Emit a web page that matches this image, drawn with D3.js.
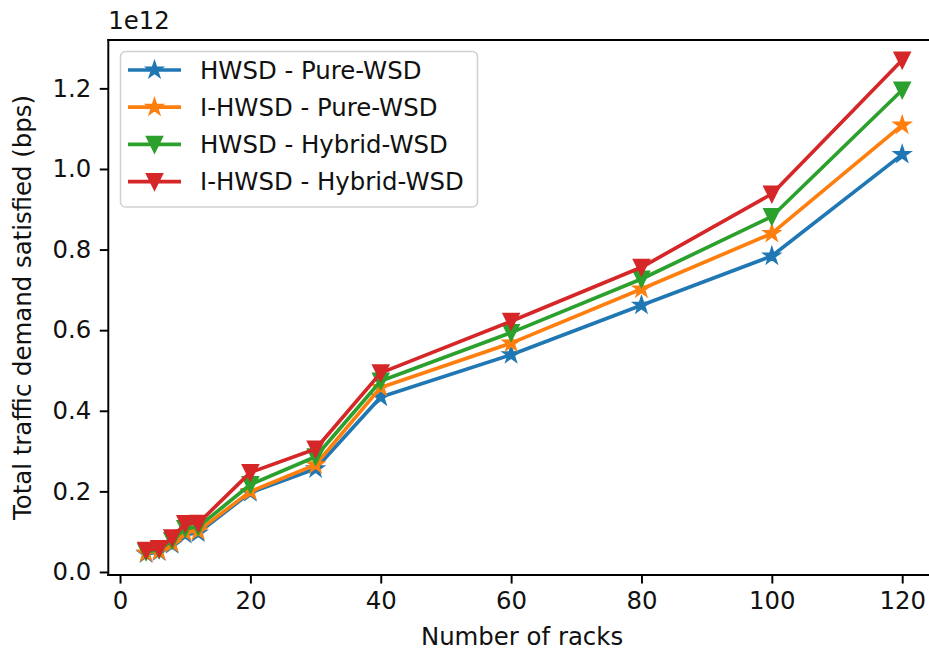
<!DOCTYPE html>
<html>
<head>
<meta charset="utf-8">
<script src="https://cdn.jsdelivr.net/npm/d3@7"></script>
<style>
  html, body { margin: 0; padding: 0; background: #fff; }
  svg { display: block; font-family: "DejaVu Sans", sans-serif; }
</style>
</head>
<body>
<svg id="chart" width="929" height="653"></svg>
<script>
// Rack counts on the x axis
const racks = [4, 6, 8, 10, 12, 20, 30, 40, 60, 80, 100, 120];

// Total traffic demand satisfied, in units of 1e12 bps
const hwsdPure     = [0.045, 0.050, 0.068, 0.093, 0.097, 0.197, 0.256, 0.434, 0.539, 0.662, 0.784, 1.036];
const ihwsdPure    = [0.047, 0.052, 0.071, 0.098, 0.102, 0.200, 0.266, 0.458, 0.568, 0.702, 0.840, 1.109];
const hwsdHybrid   = [0.050, 0.055, 0.078, 0.108, 0.112, 0.217, 0.286, 0.474, 0.594, 0.727, 0.882, 1.196];
const ihwsdHybrid  = [0.054, 0.058, 0.085, 0.120, 0.121, 0.247, 0.305, 0.494, 0.622, 0.756, 0.938, 1.270];

const seriesNames  = ["HWSD - Pure-WSD", "I-HWSD - Pure-WSD", "HWSD - Hybrid-WSD", "I-HWSD - Hybrid-WSD"];
const seriesColors = ["#1f77b4", "#ff7f0e", "#2ca02c", "#d62728"];
const seriesMarker = ["star", "star", "tri", "tri"];

const xTicks = [0, 20, 40, 60, 80, 100, 120];
const yTicks = [0.0, 0.2, 0.4, 0.6, 0.8, 1.0, 1.2];

const series = [hwsdPure, ihwsdPure, hwsdHybrid, ihwsdHybrid].map((vals, i) => ({
  name: seriesNames[i], color: seriesColors[i], marker: seriesMarker[i],
  points: racks.map((r, j) => ({ x: r, y: vals[j] }))
}));

// 1pt in figure pixels
const pt = 2.44;
const fs = 10 * pt;

const svg = d3.select("#chart");
const plot = { left: 108.3, right: 940, top: 40, bottom: 575 };

const x = d3.scaleLinear().domain([-1.8, 125.8]).range([plot.left, plot.right]);
const y = d3.scaleLinear().domain([-0.0075, 1.32]).range([plot.bottom, plot.top]);

// marker shapes: five-point star and downward triangle
const ms = 6 * pt;
const triDown = {
  draw(ctx, size) {
    const h = Math.sqrt(size) / 2;
    ctx.moveTo(0, h);
    ctx.lineTo(-h, -h);
    ctx.lineTo(h, -h);
    ctx.closePath();
  }
};
const starSize = Math.pow(ms / 2, 2) / 0.8908130915292852;
const markerPath = {
  star: d3.symbol().type(d3.symbolStar).size(starSize)(),
  tri: d3.symbol().type(triDown).size(ms * ms)()
};

const ink = "#111";

// axes ticks
const gx = svg.append("g")
  .attr("transform", `translate(0,${plot.bottom})`)
  .call(d3.axisBottom(x).tickValues(xTicks).tickFormat(d3.format("d")).tickSize(3.5 * pt).tickPadding(3.5 * pt));
const gy = svg.append("g")
  .attr("transform", `translate(${plot.left},0)`)
  .call(d3.axisLeft(y).tickValues(yTicks).tickFormat(d3.format(".1f")).tickSize(3.5 * pt).tickPadding(3.5 * pt));
[gx, gy].forEach(g => {
  g.select(".domain").remove();
  g.selectAll(".tick line").attr("stroke", "#000").attr("stroke-width", 0.8 * pt);
  g.selectAll(".tick text").attr("fill", ink).style("font-size", fs + "px").style("font-family", "DejaVu Sans");
});

// lines and markers
const line = d3.line().x(d => x(d.x)).y(d => y(d.y));
const gData = svg.append("g");
series.forEach(s => {
  gData.append("path").datum(s.points)
    .attr("d", line).attr("fill", "none")
    .attr("stroke", s.color).attr("stroke-width", 1.5 * pt)
    .attr("stroke-linejoin", "round").attr("stroke-linecap", "square");
  gData.selectAll(null).data(s.points).enter().append("path")
    .attr("d", markerPath[s.marker])
    .attr("transform", d => `translate(${x(d.x)},${y(d.y)})`)
    .attr("fill", s.color).attr("stroke", s.color).attr("stroke-width", 1 * pt)
    .attr("stroke-linejoin", "miter");
});

// spines (right spine falls past the canvas edge)
const spine = (x1, y1, x2, y2) => svg.append("line")
  .attr("x1", x1).attr("y1", y1).attr("x2", x2).attr("y2", y2)
  .attr("stroke", "#000").attr("stroke-width", 0.8 * pt).attr("stroke-linecap", "square");
spine(plot.left, plot.top, plot.left, plot.bottom);
spine(plot.left, plot.bottom, plot.right, plot.bottom);
spine(plot.left, plot.top, plot.right, plot.top);

// offset text and axis labels
svg.append("text").attr("x", plot.left).attr("y", 29).text("1e12")
  .attr("fill", ink).style("font-size", fs + "px");
svg.append("text").attr("x", 522).attr("y", 645)
  .attr("text-anchor", "middle").text("Number of racks")
  .attr("fill", ink).style("font-size", fs + "px");
svg.append("text")
  .attr("transform", `translate(31,${(plot.top + plot.bottom) / 2}) rotate(-90)`)
  .attr("text-anchor", "middle").text("Total traffic demand satisfied (bps)")
  .attr("fill", ink).style("font-size", fs + "px");

// legend
const lg = svg.append("g");
lg.append("rect").attr("x", 120.5).attr("y", 51.5).attr("width", 357).attr("height", 155.5)
  .attr("rx", 5).attr("fill", "#fff").attr("fill-opacity", 0.8)
  .attr("stroke", "#d0d0d0").attr("stroke-width", 1.5);
series.forEach((s, i) => {
  const cy = 70 + i * 37.2;
  lg.append("line").attr("x1", 128).attr("x2", 181).attr("y1", cy).attr("y2", cy)
    .attr("stroke", s.color).attr("stroke-width", 1.5 * pt);
  lg.append("path").attr("d", markerPath[s.marker])
    .attr("transform", `translate(154.5,${cy})`)
    .attr("fill", s.color).attr("stroke", s.color).attr("stroke-width", 1 * pt);
  lg.append("text").attr("x", 200).attr("y", cy).attr("dy", "0.36em")
    .text(s.name).attr("fill", ink).style("font-size", fs + "px");
});
</script>
</body>
</html>
